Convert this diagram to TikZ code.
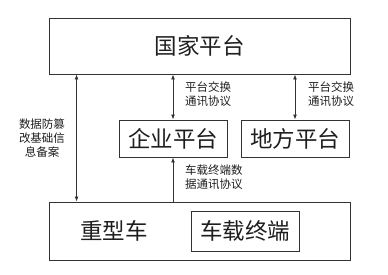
\documentclass[tikz,border=0pt]{standalone}
\usepackage{fontspec}
\newfontfamily\cjk{Noto Sans CJK SC}
\usetikzlibrary{arrows.meta,positioning}
\definecolor{linegray}{HTML}{333333}
\definecolor{textgray}{HTML}{1E1E1E}
\tikzset{
  box/.style={draw=linegray, line width=0.9pt, text=textgray, font=\cjk\fontsize{22.5}{26}\selectfont, inner sep=0pt},
  note/.style={text=textgray, font=\cjk\fontsize{11.5}{14}\selectfont, align=left, inner sep=0pt},
  link/.style={draw=linegray, line width=0.9pt, -{Latex[length=5pt,width=4pt]}},
  dlink/.style={link, {Latex[length=5pt,width=4pt]}-{Latex[length=5pt,width=4pt]}}
}
\begin{document}
\begin{tikzpicture}[x=1pt, y=-1pt]
    \useasboundingbox (0,0) rectangle (388,274);
    \node (guojia) [box, minimum width=301pt, minimum height=56pt] at (199.5,46) {国家平台};
    \node (qiye) [box, minimum width=108pt, minimum height=37pt] at (173,138.5) {企业平台};
    \node (difang) [box, minimum width=108pt, minimum height=37pt] at (295,138.5) {地方平台};
    \node (zhongxing) [box, minimum width=301pt, minimum height=58pt] at (199.5,231) {};
    \node (che) [box, draw=none] at (114,231) {重型车};
    \node (zhongduan) [box, minimum width=108pt, minimum height=40pt] at (245,231) {车载终端};
    \node (xieyi1) [note, anchor=north west] at (185,82) {平台交换\\通讯协议};
    \node (xieyi2) [note, anchor=north west] at (308,82) {平台交换\\通讯协议};
    \node (beian) [note, align=center, anchor=north] at (42,119) {数据防篡\\改基础信\\息备案};
    \node (xieyi3) [note, anchor=north west] at (185,165) {车载终端数\\据通讯协议};
    \draw[dlink] (qiye.north) -- (guojia.south -| qiye.north);
    \draw[dlink] (difang.north) -- (guojia.south -| difang.north);
    \draw[dlink] ([xshift=28pt]guojia.south west) -- ([xshift=28pt]zhongxing.north west);
    \draw[link] (zhongxing.north -| qiye.south) -- (qiye.south);
\end{tikzpicture}
\end{document}
